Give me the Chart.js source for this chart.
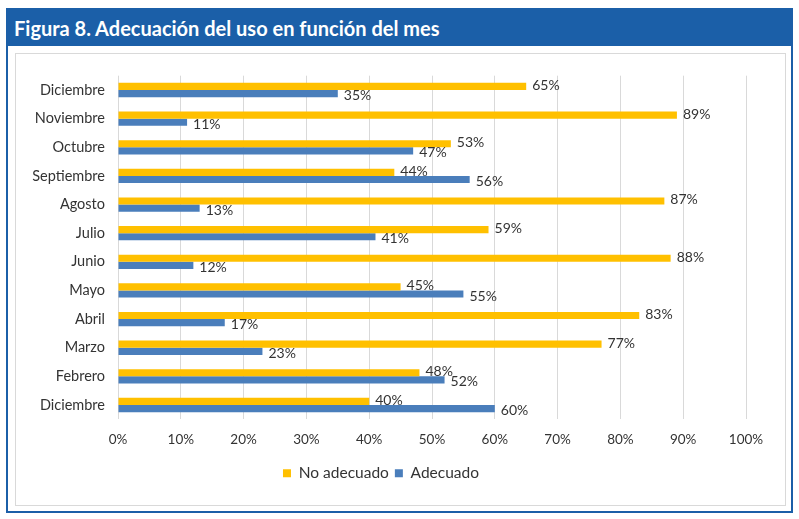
<!DOCTYPE html>
<html>
<head>
<meta charset="utf-8">
<script src="https://cdn.jsdelivr.net/npm/chart.js@4.4.1/dist/chart.umd.min.js"></script>
<style>
  html, body { margin: 0; padding: 0; background: #fff; }
  #marco {
    position: absolute; left: 6px; top: 8px; width: 783px; height: 501px;
    border: 2px solid #1b5fa8; background: #fff;
  }
  #titulo {
    position: absolute; left: 0; top: 0; width: 783px; height: 36px;
    background: #1b5fa8; color: #fff;
    font-family: Lato, "Open Sans", sans-serif; font-weight: bold; font-size: 20px;
    line-height: 36px; padding-left: 6px; box-sizing: border-box;
  }
  #caja {
    position: absolute; left: 7px; top: 43px; width: 769px; height: 451px;
    border: 1px solid #d9d9d9;
  }
</style>
</head>
<body>
<div id="marco">
  <div id="titulo">Figura 8. Adecuación del uso en función del mes</div>
  <div id="caja"><canvas id="canvasGrafico" width="769" height="451"></canvas></div>
</div>
<script>
const meses = ['Diciembre', 'Noviembre', 'Octubre', 'Septiembre', 'Agosto', 'Julio',
               'Junio', 'Mayo', 'Abril', 'Marzo', 'Febrero', 'Diciembre'];
const noAdecuado = [65, 89, 53, 44, 87, 59, 88, 45, 83, 77, 48, 40];
const adecuado   = [35, 11, 47, 56, 13, 41, 12, 55, 17, 23, 52, 60];

const fuente = 'Lato, "Open Sans", sans-serif';
const gris = '#333333';

// etiquetas de porcentaje al final de cada barra
const etiquetas = {
    id: 'etiquetas',
    afterDatasetsDraw(chart) {
        const ctx = chart.ctx;
        ctx.save();
        ctx.font = '14px ' + fuente;
        ctx.fillStyle = gris;
        ctx.textBaseline = 'middle';
        ctx.textAlign = 'left';
        chart.data.datasets.forEach((ds, i) => {
            chart.getDatasetMeta(i).data.forEach((barra, j) => {
                ctx.fillText(ds.data[j] + '%', barra.x + 6, barra.y + (i === 0 ? -1 : 2));
            });
        });
        ctx.restore();
    }
};

const ctx = document.getElementById('canvasGrafico').getContext('2d');
new Chart(ctx, {
    type: 'bar',
    data: {
        labels: meses,
        datasets: [
            { label: 'No adecuado', data: noAdecuado, backgroundColor: '#ffc000' },
            { label: 'Adecuado', data: adecuado, backgroundColor: '#4a7ebb' }
        ]
    },
    options: {
        indexAxis: 'y',
        responsive: false,
        animation: false,
        categoryPercentage: 0.5,
        barPercentage: 1,
        layout: { padding: { top: 16, right: 39, bottom: 14, left: 0 } },
        scales: {
            x: {
                min: 0, max: 100,
                ticks: {
                    stepSize: 10,
                    padding: 12,
                    color: gris,
                    font: { family: fuente, size: 13.5 },
                    callback: v => v + '%'
                },
                grid: { color: '#d9d9d9', drawTicks: false },
                border: { display: false }
            },
            y: {
                afterFit: s => { s.width = 102; },
                ticks: { color: gris, padding: 13, font: { family: fuente, size: 14.5 } },
                grid: { display: false, drawTicks: false },
                border: { display: false }
            }
        },
        plugins: {
            legend: {
                position: 'bottom',
                labels: {
                    boxWidth: 8, boxHeight: 8, padding: 6,
                    color: gris,
                    font: { family: fuente, size: 15.5 }
                }
            },
            tooltip: { enabled: false }
        }
    },
    plugins: [etiquetas]
});
</script>
</body>
</html>
